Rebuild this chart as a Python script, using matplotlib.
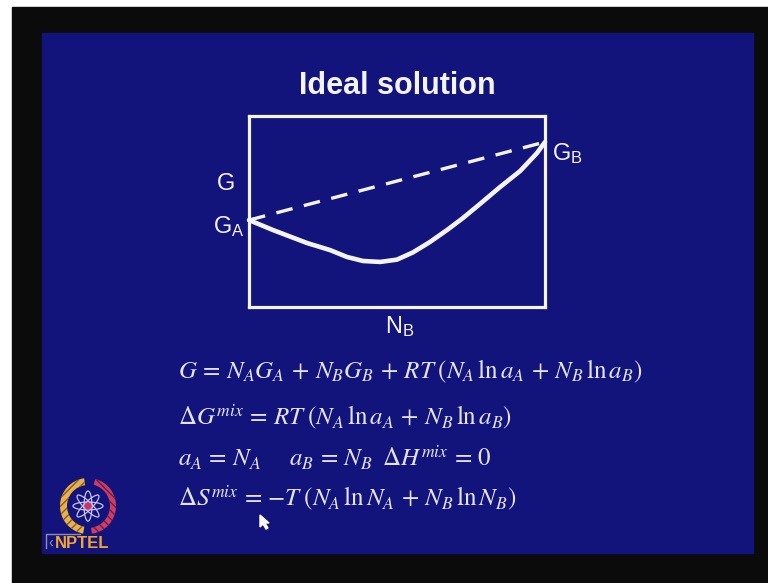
import matplotlib
matplotlib.use("Agg")
import matplotlib.pyplot as plt
from matplotlib.patches import Rectangle, Wedge, Ellipse, Circle, Polygon

plt.rcParams["font.family"] = ["Liberation Sans", "DejaVu Sans"]

BLUE = "#13137c"
FRAME = "#0b0b0b"
INK = "#f4f4ff"
EQ_INK = "#e4e4f8"

# free energy curve G(N_B), axes scaled 0..1
nb = [0.0, 0.081, 0.196, 0.274, 0.331, 0.385, 0.443, 0.500, 0.554, 0.611,
      0.669, 0.723, 0.780, 0.848, 0.916, 0.973, 1.0]
g = [0.455, 0.403, 0.335, 0.298, 0.262, 0.241, 0.236, 0.248, 0.286, 0.340,
     0.403, 0.466, 0.539, 0.628, 0.712, 0.806, 0.864]

# straight line between the pure components
chord_nb = [0.0, 1.0]
chord_g = [0.455, 0.864]

title = "Ideal solution"
equations = [
    r"$G\,=\,N_A G_A\,+\,N_B G_B\,+\,RT\;\left(N_A\,\ln a_A\,+\,N_B\,\ln a_B\right)$",
    r"$\Delta G^{mix}\,=\,RT\;\left(N_A\,\ln a_A\,+\,N_B\,\ln a_B\right)$",
    r"$a_A\,=\,N_A\quad\;\; a_B\,=\,N_B\;\;\Delta H^{mix}\,=\,0$",
    r"$\Delta S^{mix}\,=\,{-T}\;\left(N_A\,\ln N_A\,+\,N_B\,\ln N_B\right)$",
]
eq_baselines = [378, 425, 466, 506]

W, H = 768, 583
fig = plt.figure(figsize=(W / 100, H / 100), dpi=100, facecolor="white")

# slide background in pixel units
bg = fig.add_axes([0, 0, 1, 1])
bg.set_xlim(0, W)
bg.set_ylim(H, 0)
bg.axis("off")
bg.add_patch(Rectangle((12, 7), W - 12, H - 7, color=FRAME, zorder=0))
bg.add_patch(Rectangle((42, 33), 711, 520, color=BLUE, zorder=1))

bg.text(397, 86, title, ha="center", va="center", color=INK,
        fontsize=22, fontweight="bold", zorder=3)

# G vs N_B sketch
ax = fig.add_axes([249 / W, 1 - 307 / H, 296 / W, 191 / H])
ax.set_facecolor("none")
ax.set_xlim(0, 1)
ax.set_ylim(0, 1)
ax.set_xticks([])
ax.set_yticks([])
for s in ax.spines.values():
    s.set_color(INK)
    s.set_linewidth(2.3)
ax.plot(nb, g, color=INK, lw=3.3, solid_joinstyle="round",
        solid_capstyle="round", clip_on=False)
ax.plot(chord_nb, chord_g, color=INK, lw=2.4, dashes=(5, 3.5), clip_on=False)

bg.text(226, 184, "G", ha="center", va="center", color=INK, fontsize=17, zorder=3)
bg.text(245, 227, r"$\mathregular{G_A}$", ha="right", va="center", color=INK,
        fontsize=17, zorder=3)
bg.text(552, 154, r"$\mathregular{G_B}$", ha="left", va="center", color=INK,
        fontsize=17, zorder=3)
bg.text(400, 327, r"$\mathregular{N_B}$", ha="center", va="center", color=INK,
        fontsize=17, zorder=3)

for eq, yb in zip(equations, eq_baselines):
    bg.text(178, yb, eq, ha="left", va="baseline", color=EQ_INK,
            fontsize=18, math_fontfamily="stix", zorder=3)

# mouse pointer
bg.add_patch(Polygon([(260, 515), (260, 527), (263, 524), (266, 529),
                      (268, 528), (265, 523), (269, 523)],
                     closed=True, color="white", zorder=4))

# NPTEL logo
cx, cy = 88, 506
bg.add_patch(Wedge((cx, cy), 28, 100, 262, width=7, facecolor="#e8b24a",
                   edgecolor="#8a5a20", hatch="////", lw=0, zorder=3))
bg.add_patch(Wedge((cx, cy), 28, -75, 82, width=6, facecolor="#c8406a",
                   edgecolor="#7a1838", hatch="\\\\\\\\", lw=0, zorder=3))
for ang in (0, 45, 90, 135):
    bg.add_patch(Ellipse((cx, cy), 30, 8, angle=ang, fill=False,
                         edgecolor="#c9c2ee", lw=0.9, zorder=3))
bg.add_patch(Circle((cx, cy), 2.8, color="#d8305a", zorder=4))
bg.plot([46, 46, 80], [548, 534, 534], color="#8d8fa8", lw=1, zorder=3)
bg.text(48, 543, "\u2039", ha="left", va="center", color="#8d8fa8",
        fontsize=10, zorder=3)
bg.text(55, 543, "NPTEL", ha="left", va="center", color="#f2a531",
        fontsize=12, fontweight="bold", zorder=3)

fig.savefig("out.png", dpi=100, facecolor=fig.get_facecolor())
